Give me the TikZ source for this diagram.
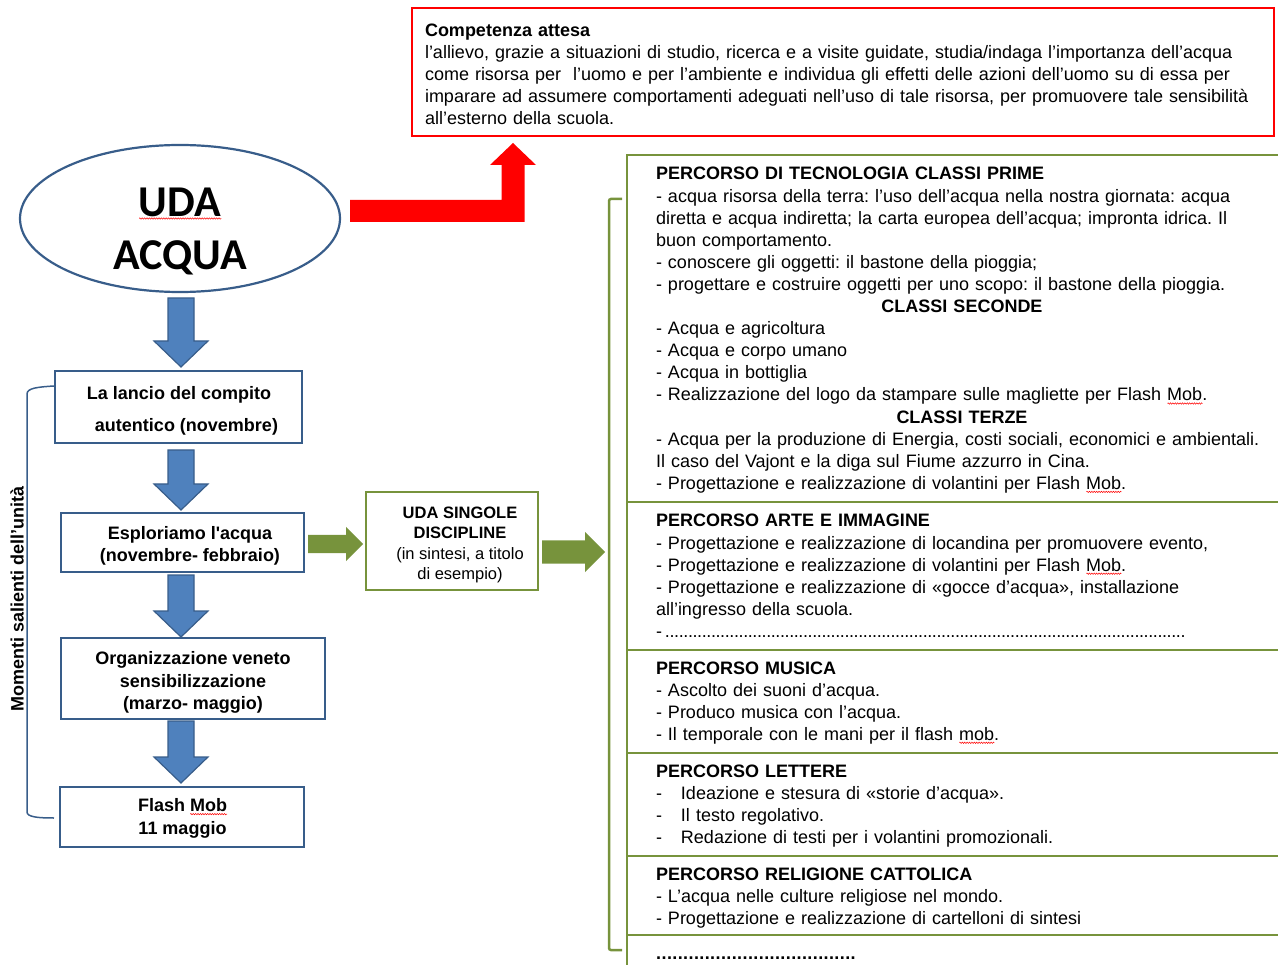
\documentclass[tikz,border=0pt]{standalone}
\usepackage{fontspec}
\setmainfont{Liberation Sans}
\newfontfamily\calib{Carlito}
\usetikzlibrary{shapes.geometric,calc,decorations.pathmorphing}
\definecolor{bblue}{RGB}{56,93,138}
\definecolor{ablue}{RGB}{79,129,189}
\definecolor{olive}{RGB}{119,147,60}
\newsavebox\rwbox
\newlength\rwlen
\newcommand{\rw}[1]{\sbox\rwbox{#1}\setlength\rwlen{\wd\rwbox}\rlap{\raisebox{-2.5pt}{\tikz[x=1pt,y=1pt,baseline=0pt]\draw[red,line width=0.5pt,decorate,decoration={zigzag,amplitude=0.7pt,segment length=2.4pt}] (0,0)--(\rwlen,0);}}\usebox\rwbox}
\newcommand{\dotrow}[2]{\leaders\hbox to #1{\hss.\hss}\hskip #2\relax\hbox{}}
\newcommand{\vblock}[2]{\filldraw[fill=ablue, draw=bblue, line width=1.2pt, line join=miter]
  let \p1=(#1), \p2=(#2) in (\x1-13pt,\y1) -- (\x1+13pt,\y1) -- (\x1+13pt,\y2+26pt) -- (\x1+27pt,\y2+26pt)
  -- (\x1,\y2) -- (\x1-27pt,\y2+26pt) -- (\x1-13pt,\y2+26pt) -- cycle;}
\newcommand{\hblock}[5]{\fill[olive] let \p1=(#1), \p2=(#2) in
  (\x1,\y1+#3) -- (\x2-#5,\y1+#3) -- (\x2-#5,\y1+#4) -- (\x2,\y1) -- (\x2-#5,\y1-#4) -- (\x2-#5,\y1-#3) -- (\x1,\y1-#3) -- cycle;}
\begin{document}
\begin{tikzpicture}[x=1pt,y=-1pt,
  every node/.style={inner sep=0pt, outer sep=0pt},
  txt/.style={font=\fontsize{18}{22.1}\selectfont\frenchspacing, anchor=base west, text width=640pt, align=left},
  fbox/.style={draw=bblue, line width=2pt, fill=white},
  btxt/.style={align=center, font=\bfseries\fontsize{18}{#1}\selectfont},
  gline/.style={draw=olive, line width=2.5pt}]
\useasboundingbox (0,0) rectangle (1278,965);

% --- competenza attesa
\node[draw=red, line width=2pt, minimum width=862pt, minimum height=128pt] (comp) at (843,72) {};
\node[txt, text width=845pt] (comptxt) at (425,36.5) {\textbf{Competenza attesa}\\
l’allievo, grazie a situazioni di studio, ricerca e a visite guidate, studia/indaga l’importanza dell’acqua\\
come risorsa per\ \ l’uomo e per l’ambiente e individua gli effetti delle azioni dell’uomo su di essa per\\
imparare ad assumere comportamenti adeguati nell’uso di tale risorsa, per promuovere tale sensibilità\\
all’esterno della scuola.};

% --- UDA ellipse
\node[ellipse, draw=bblue, line width=2.2pt, minimum width=320pt, minimum height=147pt] (uda) at (180,218.5) {};
\node[font=\calib\bfseries\fontsize{44}{53}\selectfont, align=center] (udat) at (180,231) {\rw{UDA}\\ACQUA};

% --- red bent arrow
\coordinate (rs) at ($(uda.east)+(10,-7.5)$);
\coordinate (re) at ($(comp.south)+(-330,7)$);
\fill[red] let \p1=(rs), \p2=(re) in (\x1,\y1+11pt) -- (\x2-11.5pt,\y1+11pt) -- (\x2-11.5pt,\y2-22pt)
  -- (\x2-23pt,\y2-22pt) -- (\x2,\y2) -- (\x2+23pt,\y2-22pt) -- (\x2+11.5pt,\y2-22pt)
  -- (\x2+11.5pt,\y1-11pt) -- (\x1,\y1-11pt) -- cycle;

% --- flow boxes
\node[fbox, minimum width=247pt, minimum height=72pt] (b1) at (178.5,407) {};
\node[btxt=32] (b1t) at (179,410.5) {La lancio del compito\\\hspace*{15pt}autentico (novembre)};
\node[fbox, minimum width=243pt, minimum height=59pt] (b2) at (182.5,542.5) {};
\node[btxt=22] (b2t) at (190,545.5) {Esploriamo l\textquotesingle acqua\\(novembre- febbraio)};
\node[fbox, minimum width=264pt, minimum height=81pt] (b3) at (193,678.5) {};
\node[btxt=22.5] (b3t) at (193,682.5) {Organizzazione veneto\\sensibilizzazione\\(marzo- maggio)};
\node[fbox, minimum width=244pt, minimum height=60pt] (b4) at (182,817) {};
\node[btxt=23] (b4t) at (182.5,818.5) {Flash \rw{Mob}\\11 maggio};
\node[fbox, draw=olive, minimum width=172pt, minimum height=98pt] (mid) at (452,541) {};
\node[align=center, font=\bfseries\fontsize{16.5}{20.3}\selectfont] (midt) at (460,545) {UDA SINGOLE\\DISCIPLINE\\{\mdseries (in sintesi, a titolo}\\{\mdseries di esempio)}};

% --- blue block arrows
\coordinate (a1s) at ($(uda.south)+(1,6)$);
\coordinate (a1e) at ($(b1.north)+(2.5,-4)$);
\coordinate (a2s) at ($(b1.south)+(2.5,7)$);
\coordinate (a2e) at ($(b2.north)+(-1.5,-3)$);
\coordinate (a3s) at ($(b2.south)+(-1.5,3)$);
\coordinate (a3e) at ($(b3.north)+(-12,-1)$);
\coordinate (a4s) at ($(b3.south)+(-12,2)$);
\coordinate (a4e) at ($(b4.north)+(-1,-4)$);
\vblock{a1s}{a1e}
\vblock{a2s}{a2e}
\vblock{a3s}{a3e}
\vblock{a4s}{a4e}

% --- green block arrows
\coordinate (g1s) at ($(b2.east)+(4,1.5)$);
\coordinate (g1e) at ($(mid.west)+(-3,3)$);
\coordinate (g2s) at ($(mid.east)+(4,11)$);
\coordinate (g2e) at (605,552);
\hblock{g1s}{g1e}{9pt}{17pt}{17pt}
\hblock{g2s}{g2e}{11.5pt}{20pt}{20pt}

% --- left bracket and label
\draw[bblue, line width=1.5pt] ($(b1.west)+(-1,-21)$) .. controls (38,387) and (27,388) .. (27,394) -- (27,812)
  .. controls (27,817) and (38,818) .. ($(b4.west)+(-6,1)$);
\node[rotate=90, font=\bfseries\fontsize{18}{22}\selectfont] (mom) at (17,599) {Momenti salienti dell’unità};

% --- right bracket
\draw[gline, rounded corners=2pt] (622,199) -- (609,199) -- (609,950) -- (622,950);

% --- right panel frame
\draw[gline] (1280,155) -- (627,155) -- (627,967);
\foreach \yy in {502,650,753,856,935} \draw[gline] (627,\yy) -- (1280,\yy);

% --- right panel texts
\node[txt] (p1) at (656,180) {\textbf{PERCORSO DI TECNOLOGIA CLASSI PRIME}\\
- acqua risorsa della terra: l’uso dell’acqua nella nostra giornata: acqua\\
diretta e acqua indiretta; la carta europea dell’acqua; impronta idrica. Il\\
buon comportamento.\\
- conoscere gli oggetti: il bastone della pioggia;\\
- progettare e costruire oggetti per uno scopo: il bastone della pioggia.\\
\makebox[612pt]{\textbf{CLASSI SECONDE}}\\
- Acqua e agricoltura\\
- Acqua e corpo umano\\
- Acqua in bottiglia\\
- Realizzazione del logo da stampare sulle magliette per Flash \rw{Mob}.\\
\makebox[612pt]{\textbf{CLASSI TERZE}}\\
- Acqua per la produzione di Energia, costi sociali, economici e ambientali.\\
Il caso del Vajont e la diga sul Fiume azzurro in Cina.\\
- Progettazione e realizzazione di volantini per Flash \rw{Mob}.};

\node[txt] (p2) at (656,527) {\textbf{PERCORSO ARTE E IMMAGINE}\\
- Progettazione e realizzazione di locandina per promuovere evento,\\
- Progettazione e realizzazione di volantini per Flash \rw{Mob}.\\
- Progettazione e realizzazione di «gocce d’acqua», installazione\\
all’ingresso della scuola.\\
-\dotrow{4.6pt}{525pt}};

\node[txt] (p3) at (656,674) {\textbf{PERCORSO MUSICA}\\
- Ascolto dei suoni d’acqua.\\
- Produco musica con l’acqua.\\
- Il temporale con le mani per il flash \rw{mob}.};

\node[txt] (p4) at (656,777) {\textbf{PERCORSO LETTERE}\\
\makebox[25pt][l]{-}Ideazione e stesura di «storie d’acqua».\\
\makebox[25pt][l]{-}Il testo regolativo.\\
\makebox[25pt][l]{-}Redazione di testi per i volantini promozionali.};

\node[txt] (p5) at (656,880) {\textbf{PERCORSO RELIGIONE CATTOLICA}\\
- L’acqua nelle culture religiose nel mondo.\\
- Progettazione e realizzazione di cartelloni di sintesi};

\node[txt] (p6) at (656,959) {\textbf{\dotrow{5.4pt}{200pt}}};
\end{tikzpicture}
\end{document}
